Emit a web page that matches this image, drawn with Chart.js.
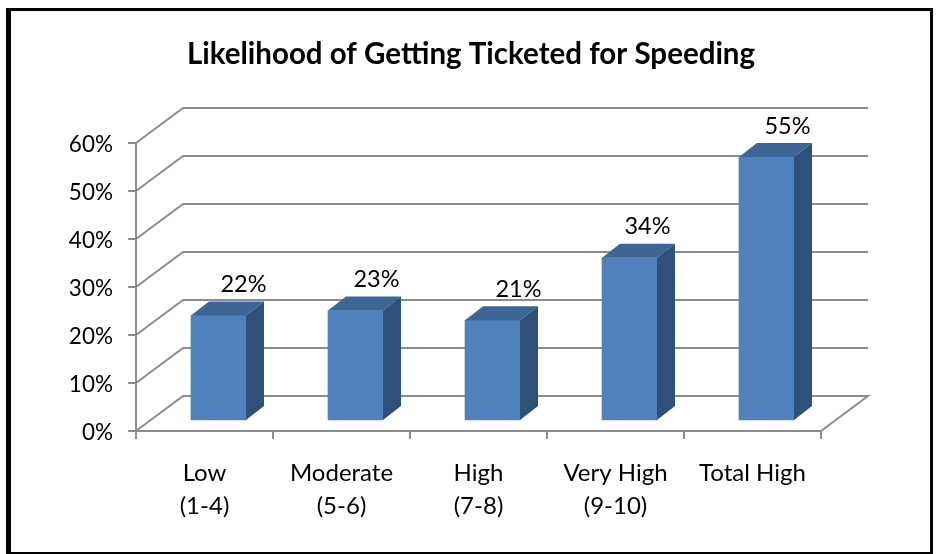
<!DOCTYPE html>
<html>
<head>
<meta charset="utf-8">
<title>Likelihood of Getting Ticketed for Speeding</title>
<script src="https://cdn.jsdelivr.net/npm/chart.js@4"></script>
<style>
  html, body { margin: 0; padding: 0; background: #fff; overflow: hidden; }
  #frame { position: absolute; left: 6px; top: 8px; width: 919px; height: 541px; border-style: solid; border-color: #000; border-width: 3px 3px 2px 5px; }
  canvas { position: absolute; left: 0; top: 0; }
</style>
</head>
<body>
<div id="frame"></div>
<canvas id="chart" width="936" height="554"></canvas>
<script>
const categories = [['Low', '(1-4)'], ['Moderate', '(5-6)'], ['High', '(7-8)'], ['Very High', '(9-10)'], 'Total High'];
const values = [22, 23, 21, 34, 55];
const yTicks = [0, 10, 20, 30, 40, 50, 60];

// label placement was done by hand in the original, so each one gets a nudge
const labelNudge = [25, 21, 26, 18, 21];

const FONT = 'Lato';
const GREY = '#8c8c8c';

// 3d look: wall depth and how far the bars sit from the front edge
const wall = { dx: 47, dy: -35 };
const barShift = { dx: 14, dy: -10 };
const barDepth = { dx: 18, dy: -14 };

const fake3d = {
    id: 'fake3d',
    beforeDatasetsDraw(chart) {
        const ctx = chart.ctx;
        const { left, right } = chart.chartArea;
        const y = chart.scales.y;

        // walls and floor
        ctx.save();
        ctx.strokeStyle = GREY;
        ctx.lineWidth = 2;
        yTicks.forEach(tick => {
            const py = y.getPixelForValue(tick);
            ctx.beginPath();
            ctx.moveTo(left, py);
            ctx.lineTo(left + wall.dx, py + wall.dy);
            ctx.lineTo(right + wall.dx, py + wall.dy);
            if (tick === 0) ctx.lineTo(right, py);
            ctx.stroke();
        });
        ctx.restore();

        ctx.save();
        ctx.translate(barShift.dx, barShift.dy);
    },
    afterDatasetsDraw(chart) {
        const ctx = chart.ctx;
        chart.getDatasetMeta(0).data.forEach((bar, i) => {
            const l = bar.x - bar.width / 2;
            const r = bar.x + bar.width / 2;

            // top face
            ctx.fillStyle = '#3d6695';
            ctx.beginPath();
            ctx.moveTo(l, bar.y);
            ctx.lineTo(l + barDepth.dx, bar.y + barDepth.dy);
            ctx.lineTo(r + barDepth.dx, bar.y + barDepth.dy);
            ctx.lineTo(r, bar.y);
            ctx.closePath();
            ctx.fill();

            // side face
            ctx.fillStyle = '#2f5079';
            ctx.beginPath();
            ctx.moveTo(r, bar.y);
            ctx.lineTo(r + barDepth.dx, bar.y + barDepth.dy);
            ctx.lineTo(r + barDepth.dx, bar.base + barDepth.dy);
            ctx.lineTo(r, bar.base);
            ctx.closePath();
            ctx.fill();

            // value label
            ctx.fillStyle = '#000';
            ctx.font = '23.5px ' + FONT;
            ctx.textAlign = 'center';
            ctx.textBaseline = 'middle';
            ctx.fillText(values[i] + '%', bar.x + labelNudge[i], bar.y - 31);
        });
        ctx.restore();
    }
};

new Chart(document.getElementById('chart'), {
    type: 'bar',
    data: {
        labels: categories,
        datasets: [{
            data: values,
            backgroundColor: '#4f81bd',
            barThickness: 55,
            clip: false
        }]
    },
    options: {
        responsive: false,
        animation: false,
        devicePixelRatio: 1,
        layout: { padding: { left: 6 } },
        plugins: {
            legend: { display: false },
            tooltip: { enabled: false },
            title: {
                display: true,
                text: 'Likelihood of Getting Ticketed for Speeding',
                color: '#000',
                font: { family: FONT, size: 29.5, weight: 'bold', lineHeight: 1.2 },
                padding: { top: 37, bottom: 70.6 }
            }
        },
        scales: {
            x: {
                grid: { drawOnChartArea: false, color: GREY, lineWidth: 2, tickLength: 8 },
                border: { color: GREY, width: 2 },
                ticks: { color: '#000', font: { family: FONT, size: 24, lineHeight: 1.37 }, padding: 18, maxRotation: 0, autoSkip: false },
                afterFit(scale) { scale.height = 123; }
            },
            y: {
                min: 0,
                max: 60,
                grid: { drawOnChartArea: false, color: GREY, lineWidth: 2, tickLength: 8 },
                border: { color: GREY, width: 2 },
                ticks: {
                    stepSize: 10,
                    color: '#000',
                    font: { family: FONT, size: 22.5 },
                    padding: 15,
                    labelOffset: 1.5,
                    callback: v => v + '%'
                },
                afterFit(scale) { scale.width = 130; }
            },
            // empty axis, just holds the space right of the plot
            spacer: {
                position: 'right',
                display: true,
                grid: { display: false },
                border: { display: false },
                ticks: { display: false },
                afterFit(scale) { scale.width = 115; }
            }
        }
    },
    plugins: [fake3d]
});
</script>
</body>
</html>
